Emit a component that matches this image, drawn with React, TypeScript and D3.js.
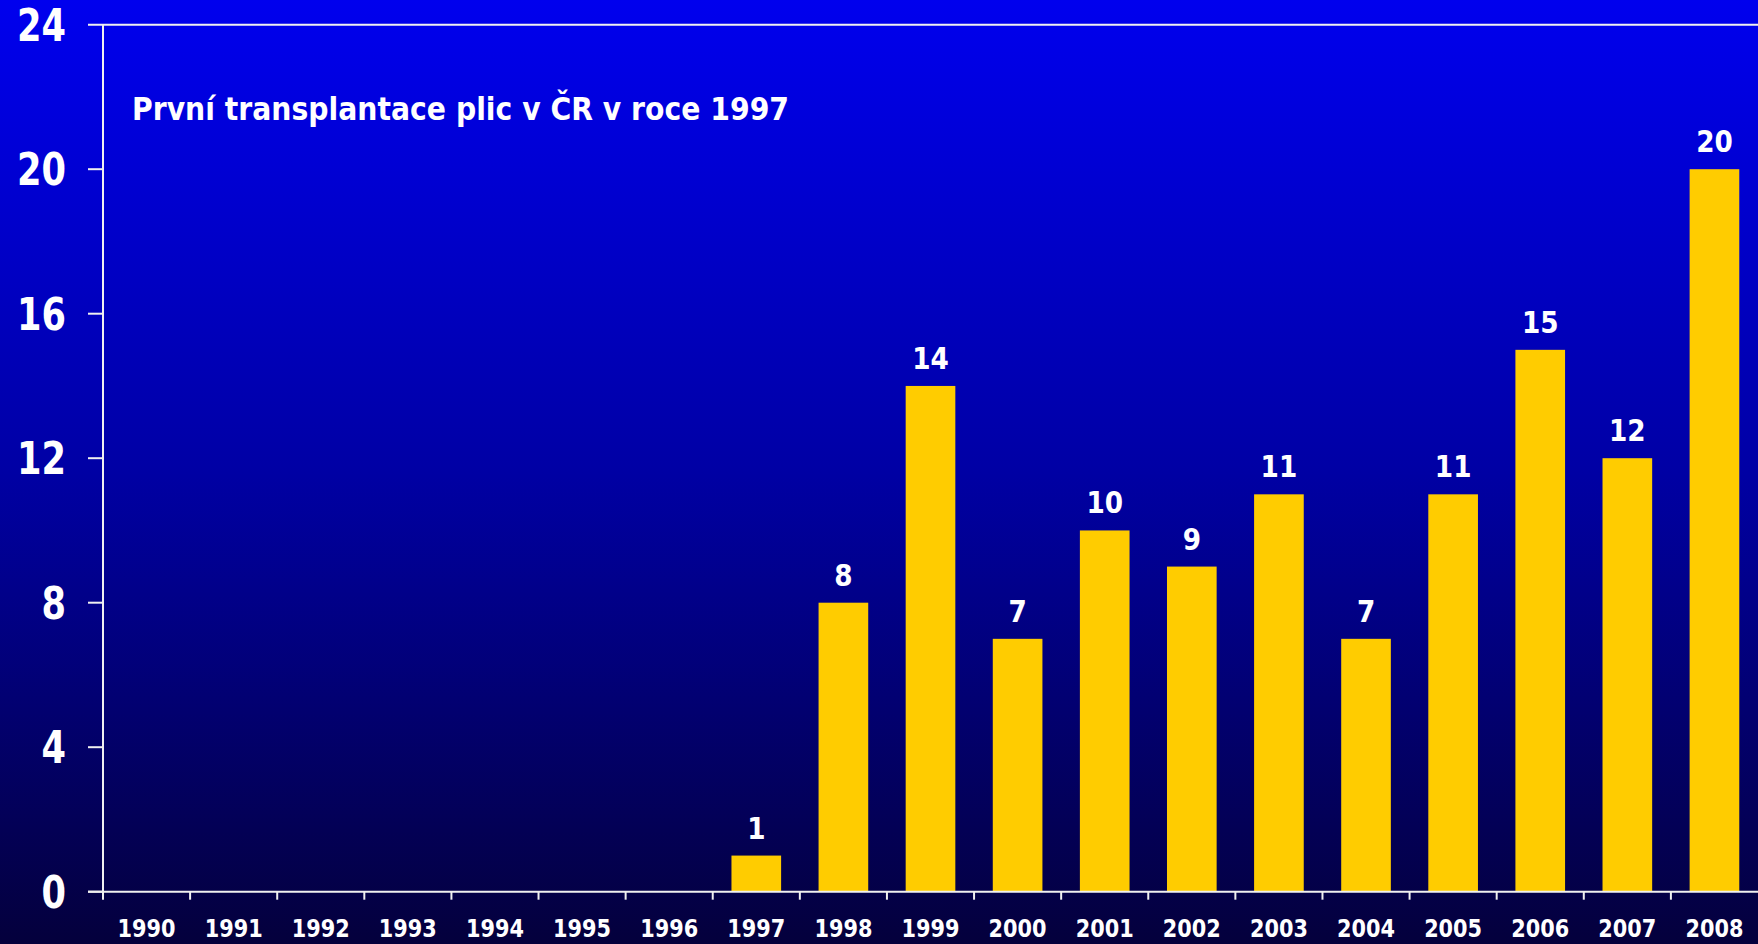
import React from 'react';
import * as d3 from 'd3';

const years = ['1990', '1991', '1992', '1993', '1994', '1995', '1996', '1997', '1998', '1999', '2000', '2001', '2002', '2003', '2004', '2005', '2006', '2007', '2008'];
const transplants = [0, 0, 0, 0, 0, 0, 0, 1, 8, 14, 7, 10, 9, 11, 7, 11, 15, 12, 20];
const yTicks = [0, 4, 8, 12, 16, 20, 24];
const title = 'První transplantace plic v ČR v roce 1997';

const width = 1758;
const height = 944;
const left = 103;
const right = 1758;
const top = 24.7;
const bottom = 891.7;

const font = "'DejaVu Sans', Verdana, sans-serif";

const App: React.FC = () => {
  // band edges for ticks, padded band for the bars
  const xEdges = d3.scaleBand<string>().domain(years).range([left, right]).padding(0);
  const xBars = d3.scaleBand<string>().domain(years).range([left, right])
    .paddingInner(0.43).paddingOuter(0.215);
  const y = d3.scaleLinear().domain([0, 24]).range([bottom, top]);

  const axisColor = '#f0f0f0';

  return (
    <svg width={width} height={height}
      style={{ position: 'absolute', left: 0, top: 0, display: 'block' }}>
      <defs>
        <linearGradient id="bg" x1="0" y1="0" x2="0" y2="1">
          <stop offset="0%" stopColor="#0000ee" />
          <stop offset="50%" stopColor="#0000a4" />
          <stop offset="100%" stopColor="#04003c" />
        </linearGradient>
      </defs>
      <rect x={0} y={0} width={width} height={height} fill="url(#bg)" />

      {/* bars */}
      {years.map((yr, i) => transplants[i] > 0 && (
        <rect key={yr}
          x={xBars(yr)}
          y={y(transplants[i])}
          width={xBars.bandwidth()}
          height={y(0) - y(transplants[i])}
          fill="#ffcc00" />
      ))}

      {/* value labels */}
      {years.map((yr, i) => transplants[i] > 0 && (
        <text key={'v' + yr}
          x={(xBars(yr) ?? 0) + xBars.bandwidth() / 2}
          y={y(transplants[i]) - 17}
          textAnchor="middle"
          fontFamily={font} fontWeight="bold" fontSize={30}
          textLength={String(transplants[i]).length * 18.3}
          lengthAdjust="spacingAndGlyphs"
          fill="#ffffff">{transplants[i]}</text>
      ))}

      {/* y axis */}
      <line x1={left} x2={left} y1={y(24)} y2={y(0)} stroke={axisColor} strokeWidth={2} />
      {yTicks.map(t => (
        <g key={'y' + t}>
          <line x1={88} x2={t === 24 ? right : left} y1={y(t)} y2={y(t)}
            stroke={axisColor} strokeWidth={2} />
          <text x={66} y={y(t) + 16}
            textAnchor="end"
            fontFamily={font} fontWeight="bold" fontSize={44}
            textLength={String(t).length * 24.5}
            lengthAdjust="spacingAndGlyphs"
            fill="#ffffff">{t}</text>
        </g>
      ))}

      {/* x axis */}
      <line x1={88} x2={right} y1={y(0)} y2={y(0)} stroke={axisColor} strokeWidth={2} />
      {years.map(yr => (
        <g key={'x' + yr}>
          <line x1={xEdges(yr)} x2={xEdges(yr)} y1={y(0)} y2={y(0) + 8}
            stroke={axisColor} strokeWidth={2} />
          <text x={(xEdges(yr) ?? 0) + xEdges.bandwidth() / 2} y={937}
            textAnchor="middle"
            fontFamily={font} fontWeight="bold" fontSize={25}
            textLength={58} lengthAdjust="spacingAndGlyphs"
            fill="#ffffff">{yr}</text>
        </g>
      ))}

      {/* title */}
      <text x={132} y={120}
        fontFamily={font} fontWeight="bold" fontSize={31.5}
        textLength={657} lengthAdjust="spacingAndGlyphs"
        fill="#ffffff">{title}</text>
    </svg>
  );
};

export default App;
